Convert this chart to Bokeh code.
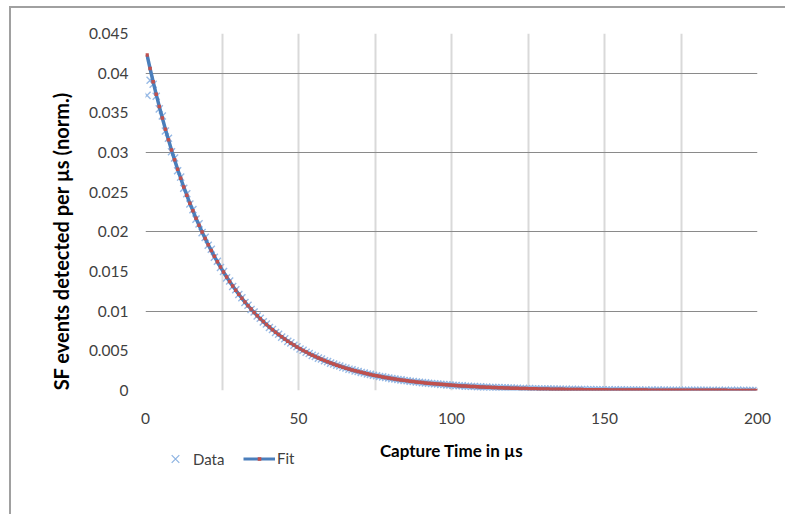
from bokeh.plotting import figure
from bokeh.models import FixedTicker, Range1d, Legend, LegendItem, Label, Spacer
from bokeh.layouts import column, row
from bokeh.embed import file_html
from bokeh.resources import INLINE

# Capture time bins (µs), bin centres
time_us = [k + 0.5 for k in range(200)]

# Measured SF events per µs (normalised)
data_vals = [
    0.0372, 0.0391, 0.0386, 0.0371, 0.0355, 0.0346, 0.0327, 0.0318, 0.0301, 0.0293,
    0.0277, 0.0269, 0.0255, 0.0248, 0.0235, 0.0228, 0.0216, 0.0210, 0.0199, 0.0193,
    0.0183, 0.0178, 0.0168, 0.0163, 0.0155, 0.0150, 0.0142, 0.0138, 0.0131, 0.0127,
    0.0121, 0.0117, 0.0111, 0.01075, 0.0102, 0.00990, 0.00940, 0.00910, 0.00865, 0.00838,
    0.00795, 0.00770, 0.00732, 0.00709, 0.00673, 0.00652, 0.00619, 0.00600, 0.00570, 0.00552,
    0.00524, 0.00508, 0.00482, 0.00467, 0.00443, 0.00430, 0.00408, 0.00396, 0.00375, 0.00364,
    0.00345, 0.00335, 0.00318, 0.00308, 0.00292, 0.00284, 0.00269, 0.00261, 0.00247, 0.00240,
    0.00228, 0.00221, 0.00209, 0.00203, 0.00193, 0.00187, 0.00177, 0.00172, 0.00163, 0.00158,
    0.00150, 0.00146, 0.00138, 0.00134, 0.00127, 0.00123, 0.00117, 0.00113, 0.00108, 0.00104,
    0.00099, 0.00096, 0.00091, 0.00088, 0.00084, 0.00081, 0.00077, 0.00075, 0.00071, 0.00069,
    0.00065, 0.00064, 0.00059, 0.00059, 0.00054, 0.00054, 0.00050, 0.00050, 0.00046, 0.00046,
    0.00042, 0.00043, 0.00039, 0.00039, 0.00036, 0.00036, 0.00033, 0.00033, 0.00030, 0.00031,
    0.00028, 0.00028, 0.00026, 0.00026, 0.00023, 0.00024, 0.00021, 0.00022, 0.00020, 0.00020,
    0.00018, 0.00019, 0.00017, 0.00017, 0.00015, 0.00016, 0.00014, 0.00015, 0.00013, 0.00014,
    0.00012, 0.00013, 0.00011, 0.00012, 0.00010, 0.00011, 0.00009, 0.00010, 0.00008, 0.00010,
    0.00007, 0.00009, 0.00007, 0.00008, 0.00006, 0.00008, 0.00006, 0.00007, 0.00005, 0.00007,
    0.00005, 0.00006, 0.00004, 0.00006, 0.00004, 0.00005, 0.00004, 0.00005, 0.00003, 0.00005,
    0.00003, 0.00004, 0.00003, 0.00004, 0.00002, 0.00004, 0.00002, 0.00003, 0.00002, 0.00003,
    0.00002, 0.00003, 0.00002, 0.00003, 0.00001, 0.00003, 0.00001, 0.00002, 0.00001, 0.00002,
    0.00001, 0.00002, 0.00001, 0.00002, 0.00001, 0.00002, 0.00001, 0.00001, 0.00001, 0.00001,
]

# Exponential fit evaluated at each bin
fit_vals = [
    0.042300, 0.040574, 0.038918, 0.037330, 0.035806, 0.034345, 0.032943, 0.031599, 0.030309, 0.029072,
    0.027886, 0.026748, 0.025656, 0.024609, 0.023605, 0.022642, 0.021718, 0.020831, 0.019981, 0.019166,
    0.018384, 0.017633, 0.016914, 0.016223, 0.015561, 0.014926, 0.014317, 0.013733, 0.013172, 0.012635,
    0.012119, 0.011625, 0.011150, 0.010695, 0.010259, 0.009840, 0.009438, 0.009053, 0.008684, 0.008330,
    0.007990, 0.007663, 0.007351, 0.007051, 0.006763, 0.006487, 0.006222, 0.005968, 0.005725, 0.005491,
    0.005267, 0.005052, 0.004846, 0.004648, 0.004458, 0.004276, 0.004102, 0.003934, 0.003774, 0.003620,
    0.003472, 0.003330, 0.003195, 0.003064, 0.002939, 0.002819, 0.002704, 0.002594, 0.002488, 0.002386,
    0.002289, 0.002196, 0.002106, 0.002020, 0.001938, 0.001859, 0.001783, 0.001710, 0.001640, 0.001573,
    0.001509, 0.001447, 0.001388, 0.001332, 0.001277, 0.001225, 0.001175, 0.001127, 0.001081, 0.001037,
    0.000995, 0.000954, 0.000915, 0.000878, 0.000842, 0.000808, 0.000775, 0.000743, 0.000713, 0.000684,
    0.000656, 0.000629, 0.000603, 0.000579, 0.000555, 0.000532, 0.000511, 0.000490, 0.000470, 0.000451,
    0.000432, 0.000415, 0.000398, 0.000382, 0.000366, 0.000351, 0.000337, 0.000323, 0.000310, 0.000297,
    0.000285, 0.000273, 0.000262, 0.000252, 0.000241, 0.000231, 0.000222, 0.000213, 0.000204, 0.000196,
    0.000188, 0.000180, 0.000173, 0.000166, 0.000159, 0.000153, 0.000146, 0.000140, 0.000134, 0.000129,
    0.000124, 0.000119, 0.000114, 0.000109, 0.000105, 0.000101, 0.000096, 0.000093, 0.000089, 0.000085,
    0.000082, 0.000078, 0.000075, 0.000072, 0.000069, 0.000066, 0.000064, 0.000061, 0.000058, 0.000056,
    0.000054, 0.000052, 0.000050, 0.000048, 0.000046, 0.000044, 0.000042, 0.000040, 0.000039, 0.000037,
    0.000035, 0.000034, 0.000033, 0.000031, 0.000030, 0.000029, 0.000028, 0.000027, 0.000025, 0.000024,
    0.000023, 0.000022, 0.000022, 0.000021, 0.000020, 0.000019, 0.000018, 0.000017, 0.000017, 0.000016,
    0.000015, 0.000015, 0.000014, 0.000014, 0.000013, 0.000012, 0.000012, 0.000011, 0.000011, 0.000010,
]

y_ticks = [0, 0.005, 0.01, 0.015, 0.02, 0.025, 0.03, 0.035, 0.04, 0.045]
y_tick_labels = ["0", "0.005", "0.01", "0.015", "0.02", "0.025", "0.03", "0.035", "0.04", "0.045"]
y_grid = [0, 0.01, 0.02, 0.03, 0.04]
x_ticks = [0, 50, 100, 150, 200]
x_grid = [0, 25, 50, 75, 100, 125, 150, 175, 200]
x_title = "Capture Time in µs"
y_title = "SF events detected per µs (norm.)"

FONT = "Lato"
DATA_COLOR = "#8db3e2"
FIT_COLOR = "#4a7ebb"
DOT_COLOR = "#c0504d"

W = 774
H_MAIN = 427
H_BOT = 79
FRAME_W = 612

# ---------------- main plot ----------------
p = figure(width=W, height=H_MAIN, output_backend="svg", toolbar_location=None,
           x_range=Range1d(0, 200), y_range=Range1d(0, 0.045),
           min_border_left=134, min_border_right=28, min_border_top=25, min_border_bottom=45)
p.outline_line_color = None
p.background_fill_color = "white"
p.border_fill_color = "white"

p.xgrid.ticker = FixedTicker(ticks=x_grid)
p.xgrid.grid_line_color = "#d9d9d9"
p.xgrid.grid_line_width = 2
p.ygrid.ticker = FixedTicker(ticks=y_grid)
p.ygrid.grid_line_color = "#8a8a8a"
p.ygrid.grid_line_width = 1.2

p.yaxis.ticker = FixedTicker(ticks=y_ticks)
p.yaxis.major_label_overrides = {t: s for t, s in zip(y_ticks, y_tick_labels)}
p.xaxis.ticker = FixedTicker(ticks=x_ticks)
for ax in (p.xaxis[0], p.yaxis[0]):
    ax.axis_line_color = None
    ax.major_tick_line_color = None
    ax.minor_tick_line_color = None
    ax.major_label_text_font = FONT
    ax.major_label_text_font_size = "15.5px"
    ax.major_label_text_color = "#404040"
p.yaxis.major_label_standoff = 11
p.xaxis.major_label_standoff = 16
p.yaxis.axis_label = y_title + "\u00a0" * 12
p.yaxis.axis_label_text_font = FONT
p.yaxis.axis_label_text_font_style = "bold"
p.yaxis.axis_label_text_font_size = "20px"
p.yaxis.axis_label_text_color = "#000000"
p.yaxis.axis_label_standoff = 13

p.scatter(time_us, data_vals, marker="x", size=10, line_color=DATA_COLOR,
          line_width=1.4, line_alpha=0.9)
p.line(time_us, fit_vals, line_color=FIT_COLOR, line_width=3.5)
p.scatter(time_us, fit_vals, marker="square", size=3.5, fill_color=DOT_COLOR, line_color=None)

# ---------------- legend / x-title strip (frame aligned with the main frame) ----------------
q = figure(width=W, height=H_BOT, output_backend="svg", toolbar_location=None,
           x_range=Range1d(0, FRAME_W), y_range=Range1d(0, H_BOT),
           x_axis_location=None, y_axis_location=None,
           min_border_left=0, min_border_right=0, min_border_top=0, min_border_bottom=0)
q.outline_line_color = None
q.xgrid.visible = False
q.ygrid.visible = False
q.background_fill_color = "white"
q.border_fill_color = "white"

nan = float("nan")
leg_data = q.scatter([nan], [nan], marker="x", size=10, line_color=DATA_COLOR, line_width=1.2)
leg_fit_line = q.line([nan], [nan], line_color=FIT_COLOR, line_width=3)
leg_fit_dot = q.scatter([nan], [nan], marker="square", size=3.5, fill_color=DOT_COLOR,
                        line_color=None)

legend_style = dict(orientation="horizontal", border_line_color=None, background_fill_alpha=0,
                    label_text_font=FONT, label_text_font_size="15px",
                    label_text_color="#404040", glyph_width=32, spacing=0,
                    padding=0, margin=0, label_standoff=2)
legend_data = Legend(items=[LegendItem(label="Data", renderers=[leg_data])],
                     location=(14, 42), glyph_height=27, label_height=27, **legend_style)
legend_fit = Legend(items=[LegendItem(label="Fit", renderers=[leg_fit_line, leg_fit_dot])],
                    location=(98, 47), glyph_height=9, label_height=9, **legend_style)
q.add_layout(legend_data, "center")
q.add_layout(legend_fit, "center")
q.add_layout(Label(x=306, y=64, text=x_title, text_align="center", text_baseline="middle",
                   text_font=FONT, text_font_style="bold", text_font_size="17px",
                   text_color="#000000"))

inner = column(p, q, spacing=0,
               styles={"border-left": "2px solid #a0a0a0", "border-top": "2px solid #a0a0a0"})
layout = row(Spacer(width=9), column(Spacer(height=6), inner, spacing=0), spacing=0)

open("out.html", "w").write(file_html(layout, INLINE))
